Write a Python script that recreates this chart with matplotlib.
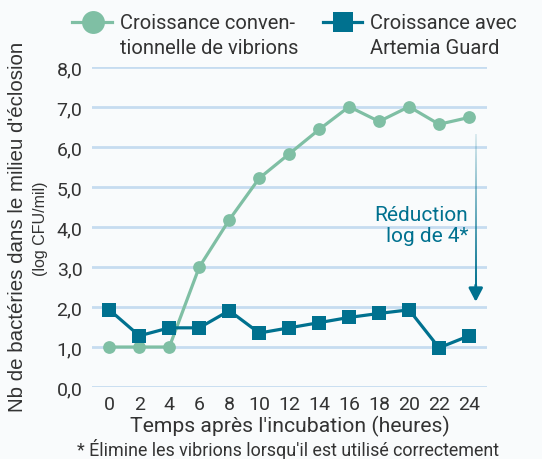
import matplotlib
matplotlib.use("Agg")
import matplotlib.pyplot as plt
import numpy as np
from matplotlib.lines import Line2D
from matplotlib.colors import to_rgb

plt.rcParams['font.family'] = ['Roboto', 'DejaVu Sans']

hours = [0, 2, 4, 6, 8, 10, 12, 14, 16, 18, 20, 22, 24]
conventional = [1.0, 1.0, 1.0, 3.0, 4.18, 5.22, 5.83, 6.44, 7.01, 6.64, 7.01, 6.57, 6.74]
artemia = [1.93, 1.28, 1.48, 1.48, 1.91, 1.35, 1.48, 1.61, 1.74, 1.84, 1.93, 0.98, 1.28]
yticks = [0, 1, 2, 3, 4, 5, 6, 7, 8]
ytick_labels = ["0,0", "1,0", "2,0", "3,0", "4,0", "5,0", "6,0", "7,0", "8,0"]
label_conv = "Croissance conven-\ntionnelle de vibrions"
label_art = "Croissance avec\nArtemia Guard"

GREEN = "#7fbfa4"
BLUE = "#00718f"
GRID = "#c6dcf0"
TXT = "#333333"
BG = "#f9fbfc"

W, H = 542, 460
fig = plt.figure(figsize=(W / 100, H / 100), dpi=100, facecolor=BG)
ax = fig.add_axes([0.170, 0.1565, 0.7285, 0.6955])
ax.set_facecolor(BG)

for y in yticks:
    ax.axhline(y, color=GRID, lw=2, zorder=0)

l1, = ax.plot(hours, conventional, color=GREEN, lw=2.3, marker='o', ms=9.2,
              markeredgewidth=0, clip_on=False, zorder=3)
l2, = ax.plot(hours, artemia, color=BLUE, lw=2.3, marker='s', ms=10,
              markeredgewidth=0, clip_on=False, zorder=4)

# annotation
ax.text(23.95, 4.05, "Réduction\nlog de 4*", ha='right', va='center', fontsize=15,
        color=BLUE, linespacing=1.1)
ax_x = 24.45
y0, y1 = 6.32, 2.5
n = 200
grad = np.zeros((n, 1, 4))
grad[:, 0, :3] = to_rgb(BLUE)
grad[:, 0, 3] = np.linspace(0.12, 1.0, n)
ax.imshow(grad, extent=[ax_x - 0.065, ax_x + 0.065, y1, y0], origin='upper',
          aspect='auto', interpolation='bilinear', zorder=2)
ax.annotate("", xy=(ax_x, 2.13), xytext=(ax_x, 2.55),
            arrowprops=dict(arrowstyle='-|>,head_length=0.8,head_width=0.42',
                            color=BLUE, lw=2.0, shrinkA=0, shrinkB=0))

ax.set_xlim(-1.15, 25.2)
ax.set_ylim(0, 8)
ax.set_aspect('auto')
ax.set_xticks(hours)
ax.set_xticklabels([str(h) for h in hours])
ax.set_yticks(yticks)
ax.set_yticklabels(ytick_labels)
ax.tick_params(axis='both', length=0, labelsize=14, labelcolor=TXT)
ax.tick_params(axis='y', pad=7)
ax.tick_params(axis='x', pad=6)
for s in ax.spines.values():
    s.set_visible(False)

ax.set_xlabel("Temps après l'incubation (heures)", fontsize=15.2, color=TXT, labelpad=1)

fig.text(18 / W, 1 - 226.5 / H, "Nb de bactéries dans le milieu d'éclosion", rotation=90,
         ha='center', va='center', fontsize=14.8, color=TXT,
         family=['Liberation Sans', 'DejaVu Sans'])
fig.text(40 / W, 1 - 228.5 / H, "(log CFU/mil)", rotation=90, ha='center', va='center',
         fontsize=11.5, color=TXT, family=['Liberation Sans', 'DejaVu Sans'])

fig.text(288 / W, 1 - 450 / H, "* Élimine les vibrions lorsqu'il est utilisé correctement",
         ha='center', va='center', fontsize=12.9, color=TXT)

# legend (manual)
def fx(px):
    return px / W

def fy(py):
    return 1 - py / H

fig.add_artist(Line2D([fx(72), fx(112)], [fy(23), fy(23)], color=GREEN, lw=2.3,
                      transform=fig.transFigure))
fig.add_artist(Line2D([fx(93)], [fy(23)], color=GREEN, marker='o', ms=16.5,
                      markeredgewidth=0, transform=fig.transFigure))
fig.text(fx(120), fy(36), label_conv, ha='left', va='center', fontsize=14.5,
         color=TXT, linespacing=1.38)
fig.add_artist(Line2D([fx(323), fx(362)], [fy(23), fy(23)], color=BLUE, lw=2.3,
                      transform=fig.transFigure))
fig.add_artist(Line2D([fx(343)], [fy(23)], color=BLUE, marker='s', ms=14.5,
                      markeredgewidth=0, transform=fig.transFigure))
fig.text(fx(370), fy(36), label_art, ha='left', va='center', fontsize=14.5,
         color=TXT, linespacing=1.38)

fig.savefig("out.png", dpi=100, facecolor=BG)
